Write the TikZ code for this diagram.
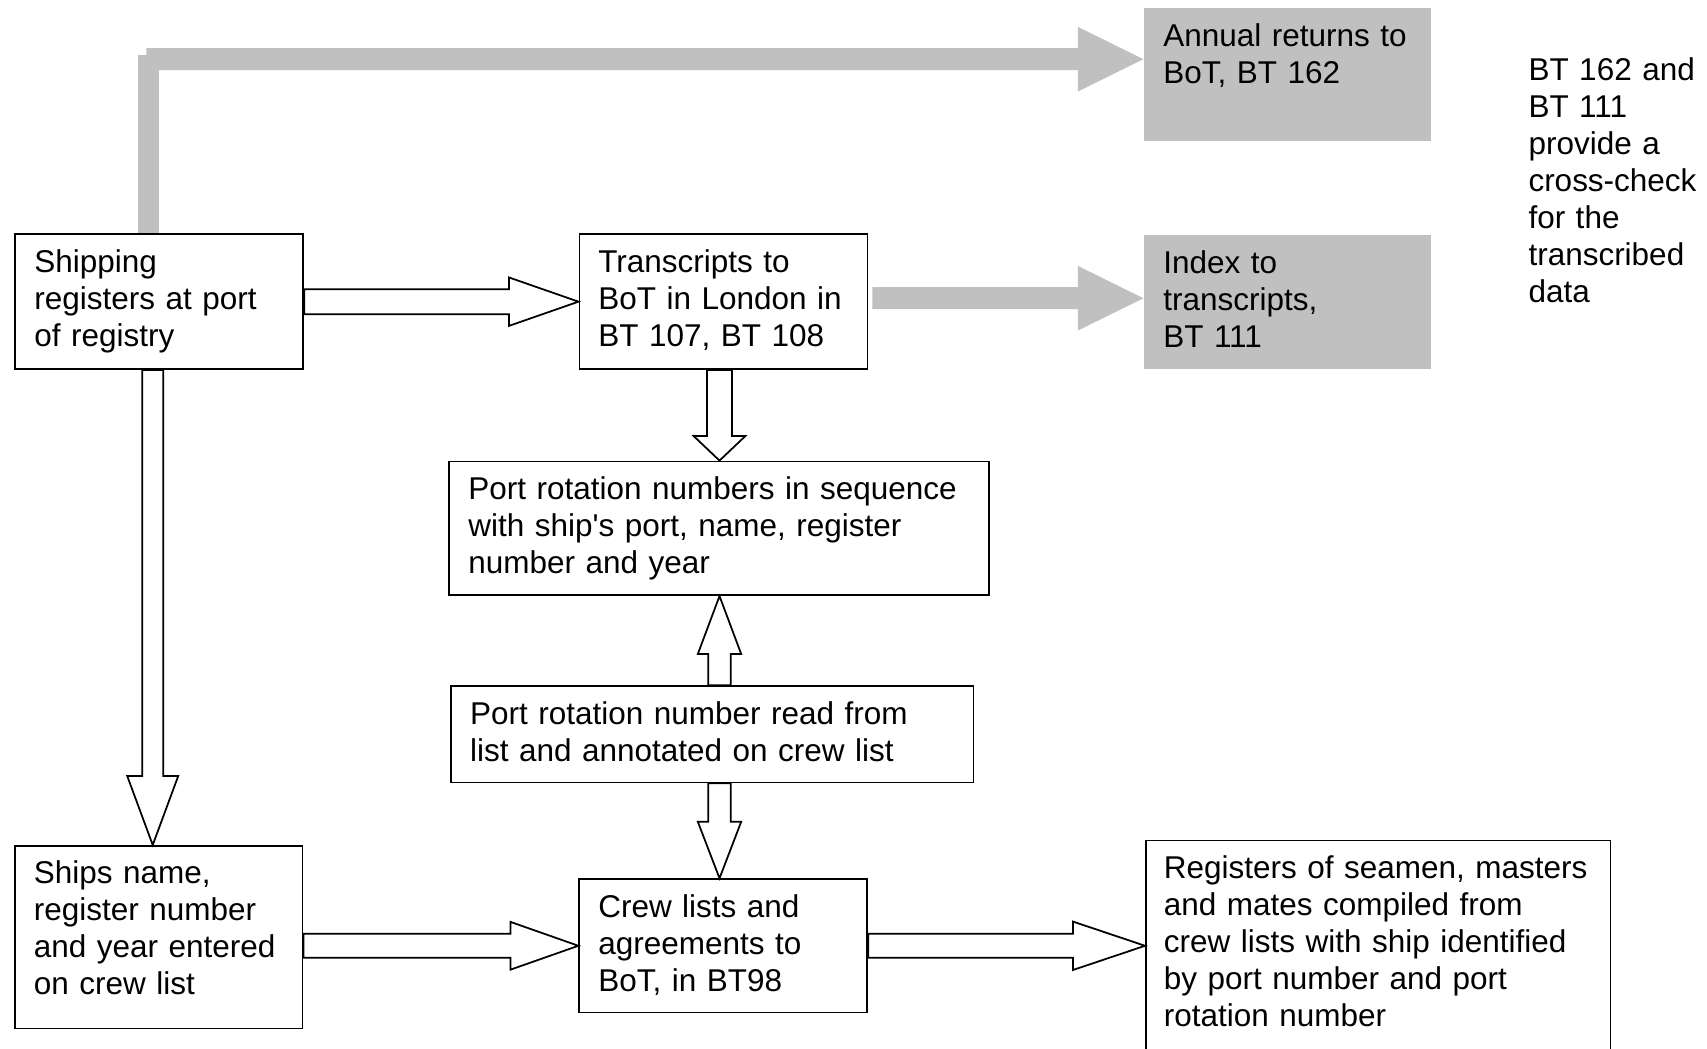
\documentclass[tikz,border=0pt]{standalone}
\usepackage{fontspec}
\setmainfont{Liberation Sans}
\usetikzlibrary{calc}
\definecolor{boxgray}{RGB}{192,192,192}
\newcommand{\boxfont}{\fontsize{8.96pt}{10.53pt}\selectfont\hyphenpenalty=10000\exhyphenpenalty=10000}
\tikzset{
  blockarrow/.style n args={3}{to path={let \p1=($(\tikztotarget)!#3!(\tikztostart)$) in
    ($(\tikztostart)!#1!90:(\tikztotarget)$) -- ($(\p1)!#1!90:(\tikztotarget)$)
    -- ($(\p1)!#2!90:(\tikztotarget)$) -- (\tikztotarget)
    -- ($(\p1)!#2!-90:(\tikztotarget)$) -- ($(\p1)!#1!-90:(\tikztotarget)$)
    -- ($(\tikztostart)!#1!-90:(\tikztotarget)$) -- cycle}},
  hollow/.style n args={3}{draw, fill=white, line width=0.5pt, blockarrow={#1}{#2}{#3}},
  grayarrow/.style={fill=boxgray, draw=none, blockarrow={0.11cm}{0.323cm}{0.655cm}},
  grayshaft/.style={draw=boxgray, line width=0.212cm},
  box/.style={draw, line width=0.5pt, anchor=north west, align=left, inner xsep=0.19cm,
    inner ysep=0pt, text height=0.38cm, font=\boxfont},
  graybox/.style={box, draw=none, fill=boxgray},
}

\begin{document}
\begin{tikzpicture}
\useasboundingbox (0,0) rectangle (17.07,-10.49);
\node[box, text width=2.50cm, text depth=0.97cm] (ship) at (0.144,-2.333) {Shipping\\registers at port\\of registry};
\node[box, text width=2.50cm, text depth=0.97cm] (trans) at (5.785,-2.333) {Transcripts to\\BoT in London in\\BT 107, BT 108};
\node[graybox, text width=2.49cm, text depth=0.947cm] (annual) at (11.434,-0.073) {Annual returns to\\BoT, BT 162};
\node[graybox, text width=2.49cm, text depth=0.954cm] (index) at (11.434,-2.343) {Index to\\transcripts,\\BT 111};
\node[box, draw=none, inner xsep=0pt, text width=1.75cm] (check) at (15.276,-0.42) {BT 162 and\\BT 111\\provide a\\cross-check\\for the\\transcribed\\data};
\node[box, text width=5.02cm, text depth=0.957cm] (portseq) at (4.484,-4.606) {Port rotation numbers in sequence\\with ship\textquotesingle s port, name, register\\number and year};
\node[box, text width=4.844cm, text depth=0.583cm] (read) at (4.502,-6.853) {Port rotation number read from\\list and annotated on crew list};
\node[box, text width=2.497cm, text depth=1.447cm] (names) at (0.14,-8.45) {Ships name,\\register number\\and year entered\\on crew list};
\node[box, text width=2.50cm, text depth=0.952cm] (crew) at (5.784,-8.783) {Crew lists and\\agreements to\\BoT, in BT98};
\node[box, text width=4.286cm, inner xsep=0.18cm, text depth=1.71cm] (reg) at (11.45,-8.395) {Registers of seamen, masters\\and mates compiled from\\crew lists with ship identified\\by port number and port\\rotation number};

\coordinate (bend) at (1.484,-0.55);
\coordinate (top) at (1.464,-0.592);
\coordinate (col) at (7.195,-4);
\draw[grayshaft] (ship.north -| bend) -- (bend);
\path[grayarrow] (top) to (top -| annual.west);
\path[grayarrow] ([shift={(0.04cm,0.036cm)}]trans.east) to ([yshift=0.036cm]index.west);

\draw[hollow={0.125cm}{0.242cm}{0.695cm}] (ship.east) to (trans.west);
\draw[hollow={0.105cm}{0.255cm}{0.69cm}] ([xshift=-0.065cm]ship.south) to ([xshift=-0.06cm]names.north);
\draw[hollow={0.125cm}{0.258cm}{0.245cm}] (trans.south -| col) to (portseq.north -| col);
\draw[hollow={0.1125cm}{0.217cm}{0.58cm}] (read.north -| col) to (portseq.south -| col);
\draw[hollow={0.1125cm}{0.217cm}{0.566cm}] (read.south -| col) to (crew.north -| col);
\draw[hollow={0.12cm}{0.239cm}{0.68cm}] (names.east |- crew.west) to (crew.west);
\draw[hollow={0.12cm}{0.242cm}{0.72cm}] (crew.east) to (crew.east -| reg.west);
\end{tikzpicture}
\end{document}
